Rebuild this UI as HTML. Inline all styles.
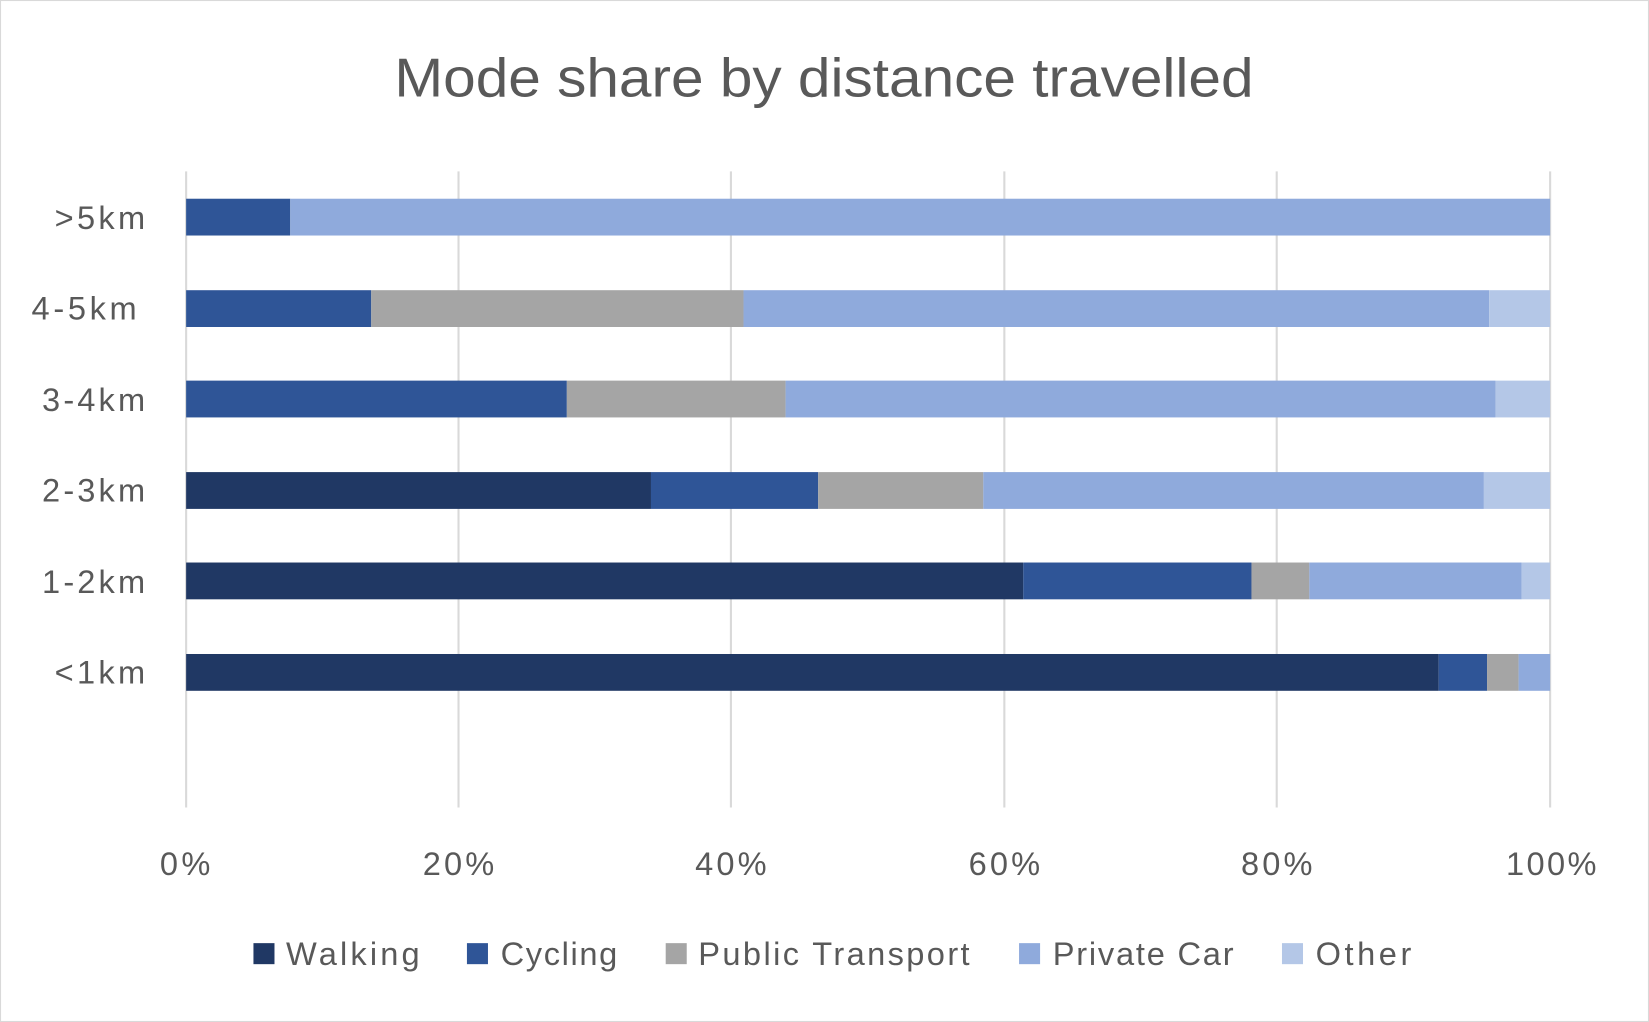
<!DOCTYPE html>
<html><head><meta charset="utf-8"><style>
html,body{margin:0;padding:0;background:#fff;}
svg{display:block;}
text{font-family:"Liberation Sans",sans-serif;fill:#595959;}
</style></head><body>
<svg width="1649" height="1022" viewBox="0 0 1568 972" preserveAspectRatio="none" xmlns="http://www.w3.org/2000/svg">
<rect x="0.5" y="0.5" width="1567" height="971" fill="#fff" stroke="#d9d9d9" stroke-width="1"/>
<text x="375" y="92" font-size="52" textLength="817" lengthAdjust="spacingAndGlyphs">Mode share by distance travelled</text>
<g stroke="#d9d9d9" stroke-width="2">
<line x1="177" y1="163" x2="177" y2="768"/>
<line x1="436" y1="163" x2="436" y2="768"/>
<line x1="695" y1="163" x2="695" y2="768"/>
<line x1="955" y1="163" x2="955" y2="768"/>
<line x1="1214" y1="163" x2="1214" y2="768"/>
<line x1="1474" y1="163" x2="1474" y2="768"/>
</g>
<rect x="177" y="189" width="99" height="35" fill="#2F5597"/>
<rect x="276" y="189" width="1198" height="35" fill="#8FAADC"/>
<rect x="177" y="276" width="176" height="35" fill="#2F5597"/>
<rect x="353" y="276" width="354" height="35" fill="#A5A5A5"/>
<rect x="707" y="276" width="709" height="35" fill="#8FAADC"/>
<rect x="1416" y="276" width="58" height="35" fill="#B4C7E7"/>
<rect x="177" y="362" width="362" height="35" fill="#2F5597"/>
<rect x="539" y="362" width="208" height="35" fill="#A5A5A5"/>
<rect x="747" y="362" width="675" height="35" fill="#8FAADC"/>
<rect x="1422" y="362" width="52" height="35" fill="#B4C7E7"/>
<rect x="177" y="449" width="442" height="35" fill="#203864"/>
<rect x="619" y="449" width="159" height="35" fill="#2F5597"/>
<rect x="778" y="449" width="157" height="35" fill="#A5A5A5"/>
<rect x="935" y="449" width="476" height="35" fill="#8FAADC"/>
<rect x="1411" y="449" width="63" height="35" fill="#B4C7E7"/>
<rect x="177" y="535" width="796" height="35" fill="#203864"/>
<rect x="973" y="535" width="217" height="35" fill="#2F5597"/>
<rect x="1190" y="535" width="55" height="35" fill="#A5A5A5"/>
<rect x="1245" y="535" width="202" height="35" fill="#8FAADC"/>
<rect x="1447" y="535" width="27" height="35" fill="#B4C7E7"/>
<rect x="177" y="622" width="1191" height="35" fill="#203864"/>
<rect x="1368" y="622" width="46" height="35" fill="#2F5597"/>
<rect x="1414" y="622" width="30" height="35" fill="#A5A5A5"/>
<rect x="1444" y="622" width="30" height="35" fill="#8FAADC"/>
<g font-size="31" lengthAdjust="spacingAndGlyphs">
<text x="52" y="218" textLength="86">&gt;5km</text>
<text x="30" y="304" textLength="100">4-5km</text>
<text x="40" y="391" textLength="98">3-4km</text>
<text x="40" y="477" textLength="98">2-3km</text>
<text x="40" y="564" textLength="98">1-2km</text>
<text x="52" y="650" textLength="86">&lt;1km</text>
</g>
<g font-size="31">
<text x="152" y="832" textLength="48">0%</text>
<text x="402" y="832" textLength="68">20%</text>
<text x="661" y="832" textLength="68">40%</text>
<text x="921" y="832" textLength="68">60%</text>
<text x="1180" y="832" textLength="68">80%</text>
<text x="1432" y="832" textLength="86">100%</text>
</g>
<g font-size="31">
<rect x="241" y="897" width="20" height="20" fill="#203864"/><text x="272" y="918" textLength="127">Walking</text>
<rect x="444" y="897" width="20" height="20" fill="#2F5597"/><text x="476" y="918" textLength="111">Cycling</text>
<rect x="633" y="897" width="20" height="20" fill="#A5A5A5"/><text x="664" y="918" textLength="258">Public Transport</text>
<rect x="969" y="897" width="20" height="20" fill="#8FAADC"/><text x="1001" y="918" textLength="172">Private Car</text>
<rect x="1219" y="897" width="20" height="20" fill="#B4C7E7"/><text x="1251" y="918" textLength="91">Other</text>
</g>
</svg>
</body></html>
